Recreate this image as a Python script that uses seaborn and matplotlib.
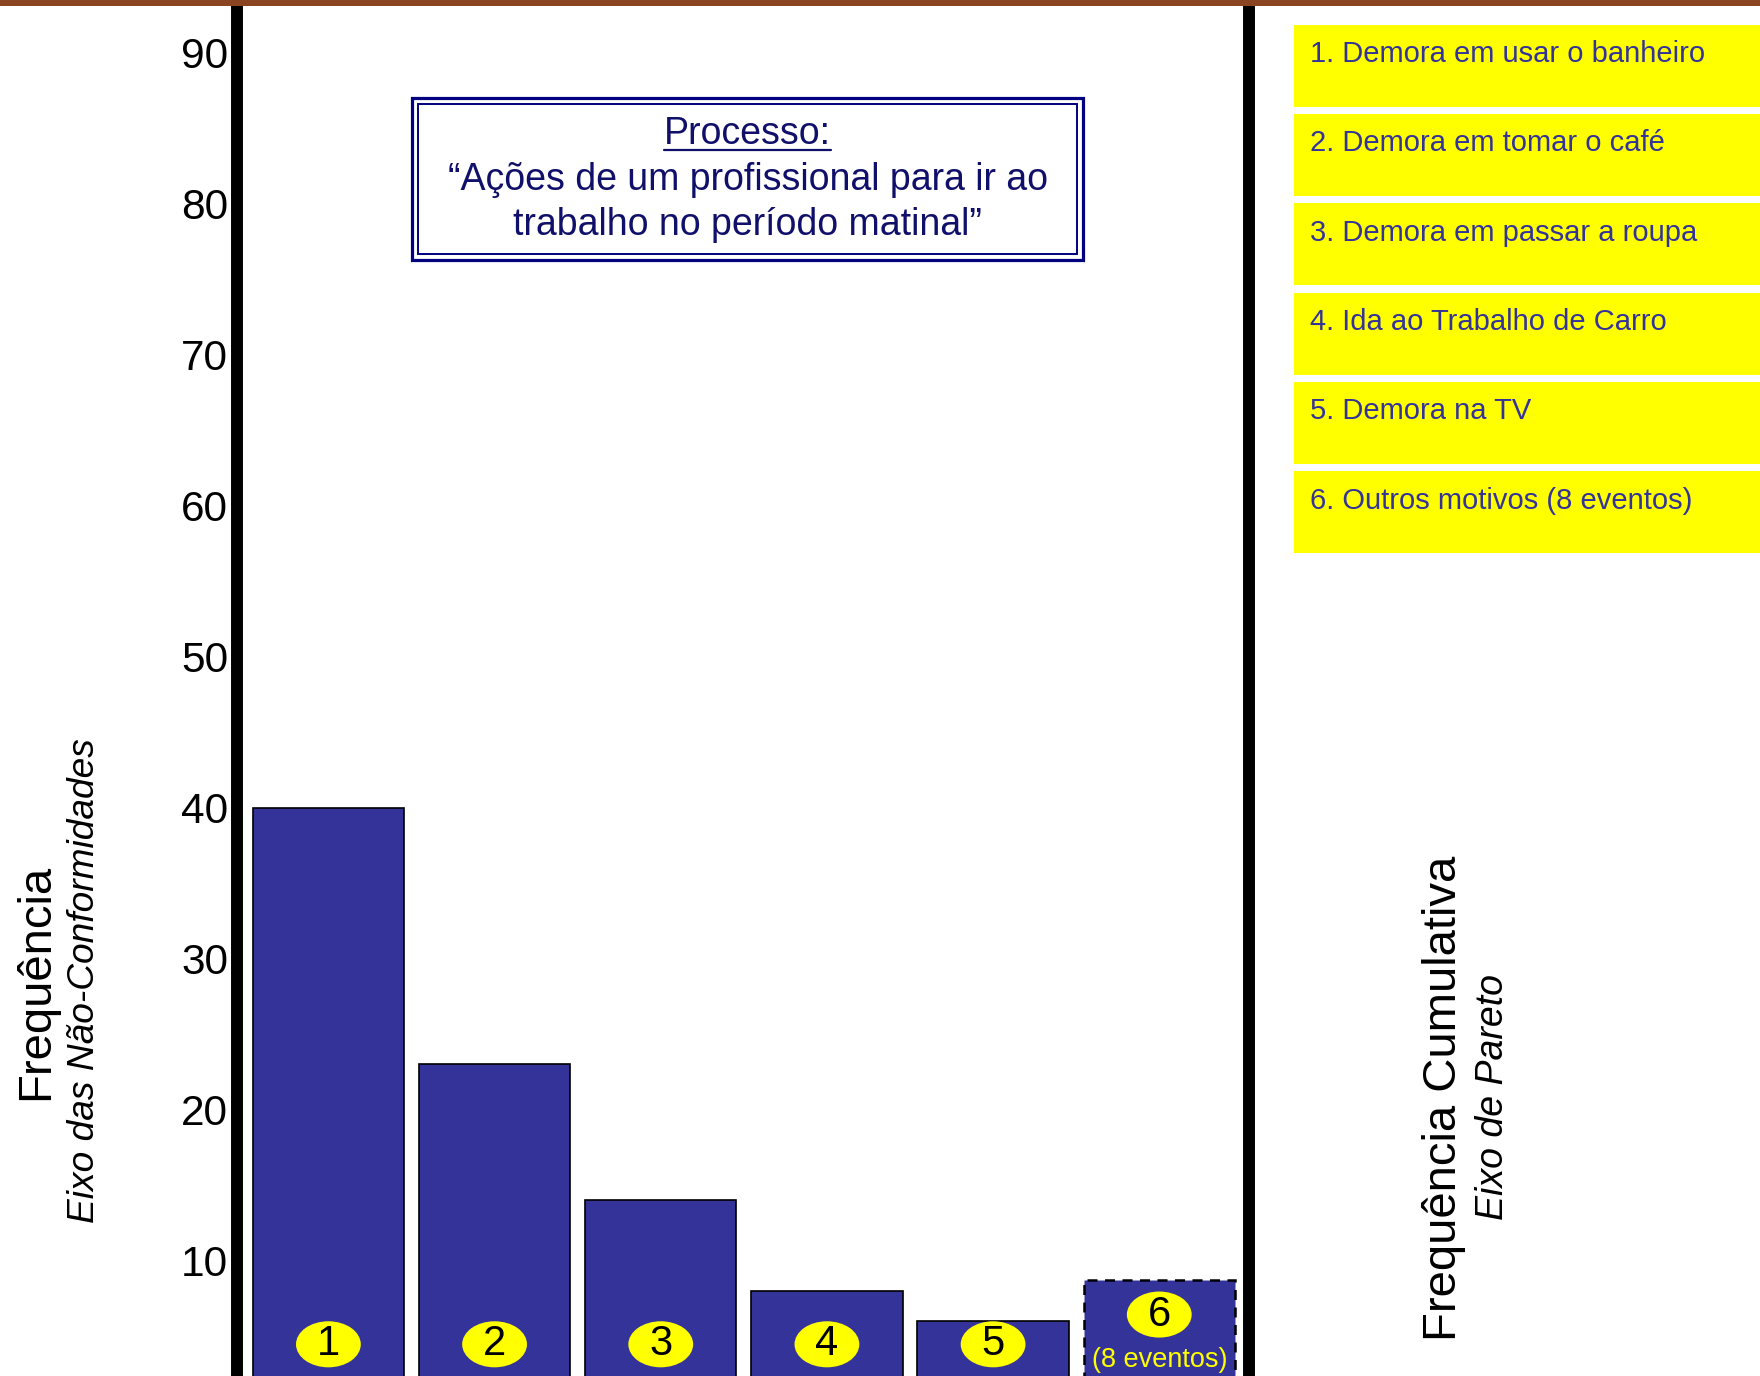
import matplotlib
matplotlib.use('Agg')
import matplotlib.pyplot as plt
import seaborn as sns
import pandas as pd
from matplotlib.patches import Rectangle, Ellipse
from matplotlib.lines import Line2D
from matplotlib.transforms import IdentityTransform

# ---------------- data ----------------
categories = ['1', '2', '3', '4', '5', '6']
frequencies = [40, 23, 14, 8, 6, 8.7]
cause_labels = [
    '1. Demora em usar o banheiro',
    '2. Demora em tomar o café',
    '3. Demora em passar a roupa',
    '4. Ida ao Trabalho de Carro',
    '5. Demora na TV',
    '6. Outros motivos (8 eventos)',
]
others_note = '(8 eventos)'
yticks = [10, 20, 30, 40, 50, 60, 70, 80, 90]
box_title = 'Processo:'
box_lines = ['\u201cAções de um profissional para ir ao', 'trabalho no período matinal\u201d']

# ---------------- style ----------------
sns.set_style('white')
plt.rcParams['font.family'] = ['Liberation Sans', 'DejaVu Sans']
BAR = '#333399'
NAVY = '#10106b'
YELLOW = '#FFFF00'
BROWN = '#8B4421'

W, H = 1760, 1376
fig = plt.figure(figsize=(W / 100, H / 100), dpi=100)
fig.patch.set_facecolor('white')


def fx(px):
    return px / W


def fy(py):
    return 1 - py / H


ax = fig.add_axes([fx(237), 0, (1249 - 237) / W, (H - 6) / H])
df = pd.DataFrame({'cat': categories, 'freq': frequencies})
sns.barplot(data=df, x='cat', y='freq', color=BAR, saturation=1, width=0.91,
            edgecolor='black', linewidth=1.2, ax=ax)
bars = ax.patches
bars[-1].set_linestyle((0, (4, 3)))
bars[-1].set_linewidth(1.8)

ax.set_xlim(-0.55, 5.54)
ax.set_ylim(2.35, 93.1)
ax.set_yticks(yticks)
ax.set_yticklabels([str(t) for t in yticks])
ax.tick_params(axis='y', length=0, pad=6.5, labelsize=30.5, labelcolor='black')
ax.set_xticks([])
ax.set_xlabel('')
ax.set_ylabel('')
ax.set_facecolor('white')
for s in ['top', 'bottom']:
    ax.spines[s].set_visible(False)
for s in ['left', 'right']:
    ax.spines[s].set_visible(True)
    ax.spines[s].set_linewidth(8.6)
    ax.spines[s].set_color('black')

# numbered yellow ellipses on bars
for i, cat in enumerate(categories):
    yc = 4.45 if i < len(categories) - 1 else 6.42
    ax.add_patch(Ellipse((i, yc), 0.39, 3.05, facecolor=YELLOW, edgecolor='none', zorder=3))
    ax.text(i, yc, cat, ha='center', va='center', fontsize=30, color='black', zorder=4)
ax.text(len(categories) - 1, 3.4, others_note, ha='center', va='center', fontsize=19.5,
        color=YELLOW, zorder=4)

# top brown strip
fig.add_artist(Rectangle((0, fy(6)), 1, 6 / H, transform=fig.transFigure,
                         facecolor=BROWN, edgecolor='none', zorder=10))

# cause list boxes on the right
top0, pitch, hbox = 24.7, 89.35, 82
for k, lab in enumerate(cause_labels):
    top = top0 + k * pitch
    fig.add_artist(Rectangle((fx(1294), fy(top + hbox)), (W - 1294) / W, hbox / H,
                             transform=fig.transFigure, facecolor=YELLOW, edgecolor='none'))
    fig.text(fx(1310), fy(top + 29.2), lab, ha='left', va='center', fontsize=21,
             color=BAR)

# process box (double border)
x0, x1, y0, y1 = 412, 1083, 97.6, 260.4
fig.add_artist(Rectangle((fx(x0), fy(y1)), (x1 - x0) / W, (y1 - y0) / H,
                         transform=fig.transFigure, facecolor='white', edgecolor='#000080',
                         linewidth=2.3, zorder=5))
ins = 6
fig.add_artist(Rectangle((fx(x0 + ins), fy(y1 - ins)), (x1 - x0 - 2 * ins) / W,
                         (y1 - y0 - 2 * ins) / H, transform=fig.transFigure,
                         facecolor='none', edgecolor='#000080', linewidth=1.4, zorder=6))
cx = (x0 + x1) / 2
t_title = fig.text(fx(cx), fy(133.6), box_title, ha='center', va='center', fontsize=27,
                   color=NAVY, zorder=7)
for j, line in enumerate(box_lines):
    fig.text(fx(cx), fy(179.6 + 45 * j), line, ha='center', va='center', fontsize=27,
             color=NAVY, zorder=7)

# axis titles
fig.text(fx(36), fy(982), 'Frequência', rotation=90, ha='center', va='center', fontsize=34,
         color='black')
fig.text(fx(84), fy(981), 'Eixo das Não-Conformidades', rotation=90, ha='center',
         va='center', fontsize=26.7, style='italic', color='black')
fig.text(fx(1444.5), fy(1098), 'Frequência Cumulativa', rotation=90, ha='center',
         va='center', fontsize=34, color='black')
fig.text(fx(1493), fy(1097), 'Eixo de Pareto', rotation=90, ha='center', va='center',
         fontsize=27, style='italic', color='black')

# underline "Processo:"
fig.canvas.draw()
bb = t_title.get_window_extent(renderer=fig.canvas.get_renderer())
uy = bb.y0 + 2
fig.add_artist(Line2D([bb.x0, bb.x1], [uy, uy], transform=IdentityTransform(),
                      color=NAVY, linewidth=1.6, zorder=8))

fig.savefig('out.png', dpi=100, facecolor='white')
